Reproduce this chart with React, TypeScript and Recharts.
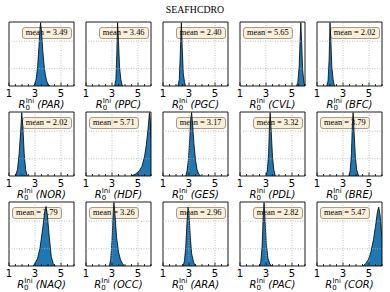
import { AreaChart, Area, XAxis, YAxis, ReferenceArea, ReferenceLine } from 'recharts'

// region codes, in reading order (3 rows x 5 columns)
const REGIONS = ['PAR', 'PPC', 'PGC', 'CVL', 'BFC', 'NOR', 'HDF', 'GES', 'PDL', 'BRE', 'NAQ', 'OCC', 'ARA', 'PAC', 'COR']
const MEANS = [3.49, 3.46, 2.4, 5.65, 2.02, 2.02, 5.71, 3.17, 3.32, 3.79, 3.79, 3.26, 2.96, 2.82, 5.47]
const MEAN_SIDE = ['right', 'right', 'right', 'left', 'right', 'right', 'left', 'right', 'right', 'left', 'left', 'left', 'right', 'right', 'left']

// posterior densities of R0 (scaled so the tallest bin is ~1), [R0, density]
const PAR_R0 = [[2.9, 0], [3.0, 0.04], [3.1, 0.12], [3.2, 0.3], [3.3, 0.6], [3.38, 0.88], [3.43, 0.99], [3.5, 0.85], [3.6, 0.55], [3.7, 0.32], [3.8, 0.17], [3.9, 0.08], [4.0, 0.03], [4.15, 0]]
const PPC_R0 = [[3.2, 0], [3.3, 0.1], [3.37, 0.5], [3.43, 0.99], [3.5, 0.7], [3.58, 0.3], [3.68, 0.1], [3.8, 0]]
const PGC_R0 = [[2.15, 0], [2.25, 0.1], [2.33, 0.5], [2.41, 0.99], [2.48, 0.6], [2.56, 0.2], [2.66, 0.05], [2.75, 0]]
const CVL_R0 = [[5.35, 0], [5.45, 0.06], [5.55, 0.3], [5.62, 0.7], [5.68, 0.99], [5.74, 0.7], [5.82, 0.25], [5.92, 0.05], [6.0, 0]]
const BFC_R0 = [[1.75, 0], [1.85, 0.08], [1.93, 0.4], [2.0, 0.99], [2.06, 0.75], [2.14, 0.3], [2.25, 0.08], [2.35, 0]]
const NOR_R0 = [[1.5, 0], [1.65, 0.1], [1.78, 0.35], [1.9, 0.7], [1.98, 0.99], [2.07, 0.75], [2.17, 0.35], [2.28, 0.1], [2.4, 0]]
const HDF_R0 = [[4.5, 0], [4.8, 0.03], [5.1, 0.08], [5.3, 0.15], [5.5, 0.3], [5.65, 0.5], [5.78, 0.75], [5.88, 0.99], [5.95, 0.85], [6.0, 0.6]]
const GES_R0 = [[2.75, 0], [2.85, 0.08], [2.95, 0.25], [3.05, 0.55], [3.14, 0.9], [3.2, 0.99], [3.28, 0.8], [3.38, 0.5], [3.5, 0.25], [3.62, 0.1], [3.75, 0.03], [3.9, 0]]
const PDL_R0 = [[3.0, 0], [3.1, 0.08], [3.2, 0.35], [3.27, 0.8], [3.32, 0.99], [3.4, 0.7], [3.5, 0.3], [3.6, 0.1], [3.72, 0]]
const BRE_R0 = [[3.45, 0], [3.55, 0.08], [3.65, 0.35], [3.72, 0.8], [3.78, 0.99], [3.85, 0.7], [3.95, 0.3], [4.05, 0.1], [4.2, 0]]
const NAQ_R0 = [[2.85, 0], [3.0, 0.04], [3.2, 0.12], [3.4, 0.3], [3.6, 0.6], [3.75, 0.85], [3.85, 0.93], [3.95, 0.8], [4.1, 0.45], [4.25, 0.15], [4.4, 0.04], [4.55, 0]]
const OCC_R0 = [[2.8, 0], [2.9, 0.1], [3.0, 0.4], [3.1, 0.85], [3.15, 0.99], [3.25, 0.75], [3.35, 0.45], [3.5, 0.22], [3.65, 0.1], [3.8, 0.04], [3.95, 0]]
const ARA_R0 = [[2.55, 0], [2.65, 0.08], [2.75, 0.3], [2.85, 0.7], [2.93, 0.92], [3.0, 0.8], [3.1, 0.45], [3.2, 0.2], [3.35, 0.06], [3.5, 0]]
const PAC_R0 = [[2.5, 0], [2.6, 0.06], [2.7, 0.3], [2.78, 0.75], [2.85, 0.99], [2.93, 0.7], [3.02, 0.35], [3.15, 0.12], [3.3, 0.03], [3.45, 0]]
const COR_R0 = [[4.55, 0], [4.75, 0.04], [4.95, 0.1], [5.15, 0.22], [5.35, 0.42], [5.5, 0.62], [5.65, 0.85], [5.75, 0.92], [5.85, 0.8], [5.95, 0.55], [6.0, 0.45]]

const DENSITIES = [PAR_R0, PPC_R0, PGC_R0, CVL_R0, BFC_R0, NOR_R0, HDF_R0, GES_R0, PDL_R0, BRE_R0, NAQ_R0, OCC_R0, ARA_R0, PAC_R0, COR_R0]

const X_TICKS = [1, 1.5, 2, 2.5, 3, 3.5, 4, 4.5, 5, 5.5, 6]
const X_LABELED = [1, 3, 5]
const X_GRID = [3, 5]
const Y_GRID = [0.27, 0.7]

const PLOT_W = 65
const PLOT_H = 64
const PAD = 10
const COL_X = [9, 86, 163, 240, 317]
const ROW_Y = [22, 112, 202]
const BLUE = '#1f77b4'
const GRID = '#b0b0b0'

const BottomTick = (p: any) => {
  const v = p.payload.value
  const major = X_LABELED.includes(v)
  return (
    <g>
      <line x1={p.x} x2={p.x} y1={p.y} y2={p.y - (major ? 3.5 : 2)} stroke="#000" strokeWidth={0.8} />
      {major && (
        <text x={p.x} y={p.y + 10.5} textAnchor="middle" fontSize={10} fontFamily="DejaVu Sans" fill="#000">
          {v}
        </text>
      )}
    </g>
  )
}

const TopTick = (p: any) => {
  const major = X_LABELED.includes(p.payload.value)
  return <line x1={p.x} x2={p.x} y1={p.y} y2={p.y + (major ? 3.5 : 2)} stroke="#000" strokeWidth={0.8} />
}

const LeftTick = (p: any) => <line x1={p.x} x2={p.x + 3.5} y1={p.y} y2={p.y} stroke="#000" strokeWidth={0.8} />
const RightTick = (p: any) => <line x1={p.x} x2={p.x - 3.5} y1={p.y} y2={p.y} stroke="#000" strokeWidth={0.8} />

function Panel({ idx }: { idx: number }) {
  const left = COL_X[idx % 5]
  const top = ROW_Y[Math.floor(idx / 5)]
  const data = DENSITIES[idx].map(([x, d]) => ({ x, d }))
  const boxPos =
    MEAN_SIDE[idx] === 'right' ? { right: 390 - (left + PLOT_W - 2.5) } : { left: left + 3 }
  return (
    <>
      <div
        style={{
          position: 'absolute',
          top: top + 5,
          ...boxPos,
          height: 10,
          lineHeight: '10px',
          padding: '0 3px',
          fontFamily: 'Liberation Serif',
          fontSize: 8.4,
          whiteSpace: 'nowrap',
          background: '#faefd9',
          border: '1px solid #a89a84',
          borderRadius: 3,
        }}
      >
        mean = {MEANS[idx].toFixed(2)}
      </div>
      <div style={{ position: 'absolute', left: left - PAD, top: top - 2 }}>
        <AreaChart
          width={PLOT_W + 2 * PAD}
          height={PLOT_H + 2 + 22}
          data={data}
          margin={{ top: 2, right: PAD, bottom: 0, left: PAD }}
        >
          <XAxis
            xAxisId="b"
            dataKey="x"
            type="number"
            domain={[1, 6]}
            allowDataOverflow
            ticks={X_TICKS}
            interval={0}
            tickSize={0}
            tickMargin={0}
            axisLine={false}
            tickLine={false}
            tick={BottomTick}
            height={22}
          />
          <XAxis
            xAxisId="t"
            orientation="top"
            dataKey="x"
            type="number"
            domain={[1, 6]}
            allowDataOverflow
            ticks={X_TICKS}
            interval={0}
            tickSize={0}
            tickMargin={0}
            axisLine={false}
            tickLine={false}
            tick={TopTick}
            height={0}
          />
          <YAxis
            yAxisId="l"
            type="number"
            domain={[0, 1]}
            allowDataOverflow
            ticks={Y_GRID}
            interval={0}
            tickSize={0}
            tickMargin={0}
            axisLine={false}
            tickLine={false}
            tick={LeftTick}
            width={0}
          />
          <YAxis
            yAxisId="r"
            orientation="right"
            type="number"
            domain={[0, 1]}
            allowDataOverflow
            ticks={Y_GRID}
            interval={0}
            tickSize={0}
            tickMargin={0}
            axisLine={false}
            tickLine={false}
            tick={RightTick}
            width={0}
          />
          {X_GRID.map((v) => (
            <ReferenceLine key={'x' + v} xAxisId="b" yAxisId="l" x={v} stroke={GRID} strokeWidth={0.8} strokeDasharray="1 1.5" />
          ))}
          {Y_GRID.map((v) => (
            <ReferenceLine key={'y' + v} xAxisId="b" yAxisId="l" y={v} stroke={GRID} strokeWidth={0.8} strokeDasharray="1 1.5" />
          ))}
          <Area
            xAxisId="b"
            yAxisId="l"
            dataKey="d"
            type="linear"
            fill={BLUE}
            fillOpacity={1}
            stroke="#000"
            strokeWidth={0.8}
            isAnimationActive={false}
          />
          <ReferenceArea xAxisId="b" yAxisId="l" x1={1} x2={6} y1={0} y2={1} fill="none" stroke="#000" strokeWidth={0.9} />
        </AreaChart>
      </div>
    </>
  )
}

function Labels() {
  return (
    <svg width={390} height={292} style={{ position: 'absolute', left: 0, top: 0 }}>
      <text x={195} y={13} textAnchor="middle" fontFamily="Liberation Serif" fontSize={9.8} fill="#000">
        SEAFHCDRO
      </text>
      {REGIONS.map((code, i) => {
        const cx = COL_X[i % 5] + PLOT_W / 2
        const y = ROW_Y[Math.floor(i / 5)] + PLOT_H + 21.5
        return (
          <text key={code} x={cx} y={y} textAnchor="middle" fontFamily="DejaVu Sans" fontSize={10} fill="#000">
            <tspan fontStyle="italic">R</tspan>
            <tspan fontSize={7} dy={2}>0</tspan>
            <tspan fontSize={7} dx={-4.4} dy={-7}>Ini</tspan>
            <tspan fontStyle="italic" dy={5}>{'\u00a0(' + code + ')'}</tspan>
          </text>
        )
      })}
    </svg>
  )
}

export default function App() {
  return (
    <div style={{ position: 'absolute', left: 0, top: 0, width: 390, height: 292, background: '#fff' }}>
      <Labels />
      {REGIONS.map((code, i) => (
        <Panel key={code} idx={i} />
      ))}
    </div>
  )
}
